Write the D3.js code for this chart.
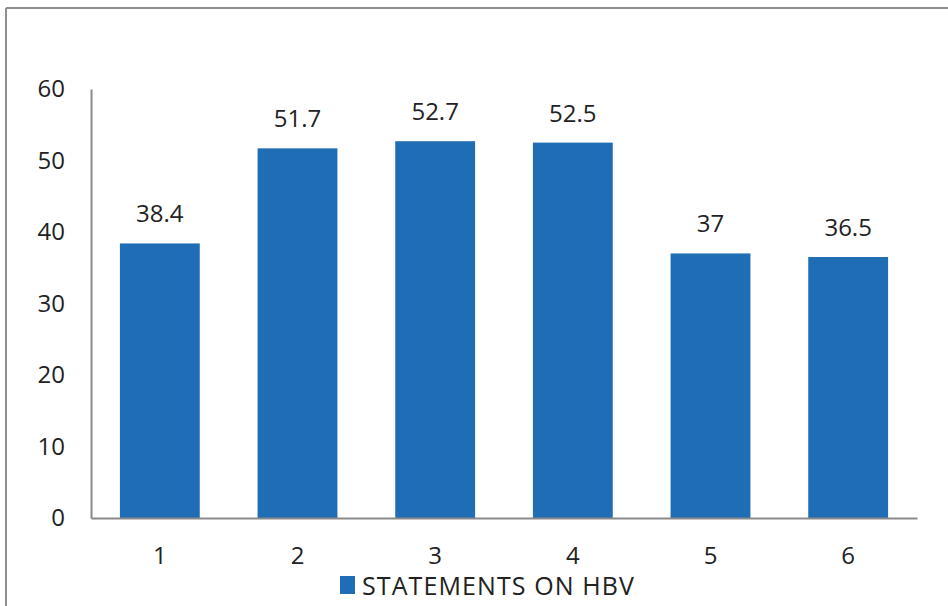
<!DOCTYPE html>
<html>
<head>
<meta charset="utf-8">
<script src="https://cdn.jsdelivr.net/npm/d3@7"></script>
<style>
  body { margin: 0; background: #fff; }
  text { font-family: "Open Sans", "Noto Sans", sans-serif; fill: #222; }
</style>
</head>
<body>
<div id="chart"></div>
<script>
let categories = ["1", "2", "3", "4", "5", "6"]
let values = [38.4, 51.7, 52.7, 52.5, 37, 36.5]
let yTicks = [0, 10, 20, 30, 40, 50, 60]
let seriesName = "STATEMENTS ON HBV"

let totalWidth = 948
let totalHeight = 606
let plot = {left: 91, right: 917, top: 89, bottom: 518}
let fontFamily = "'Open Sans', 'Noto Sans', sans-serif"

let svg = d3.select("#chart").append("svg")
    .attr("width", totalWidth)
    .attr("height", totalHeight)

// outer frame (only top and left edges visible)
svg.append("line")
    .attr("x1", 6).attr("x2", totalWidth)
    .attr("y1", 8).attr("y2", 8)
    .attr("stroke", "#8f8f8f").attr("stroke-width", 2)
svg.append("line")
    .attr("x1", 6).attr("x2", 6)
    .attr("y1", 8).attr("y2", totalHeight)
    .attr("stroke", "#8f8f8f").attr("stroke-width", 2)

let xScale = d3.scaleBand()
    .domain(categories)
    .range([plot.left, plot.right])
    .paddingInner(0.42)
    .paddingOuter(0.21)

let yScale = d3.scaleLinear()
    .domain([0, 60])
    .range([plot.bottom, plot.top])

// bars
svg.selectAll("rect.bar")
    .data(values)
    .enter()
    .append("rect")
    .attr("class", "bar")
    .attr("x", (d, i) => xScale(categories[i]))
    .attr("y", d => yScale(d))
    .attr("width", xScale.bandwidth())
    .attr("height", d => plot.bottom - yScale(d))
    .attr("fill", "#1f6db5")

// value labels
svg.selectAll("text.bar-label")
    .data(values)
    .enter()
    .append("text")
    .attr("class", "bar-label")
    .attr("x", (d, i) => xScale(categories[i]) + xScale.bandwidth() / 2)
    .attr("y", d => yScale(d) - 21)
    .attr("text-anchor", "middle")
    .style("font-size", "24px")
    .text(d => d)

// y axis
let yAxis = d3.axisLeft(yScale)
    .tickValues(yTicks)
    .tickSize(0)
    .tickPadding(26)

let yG = svg.append("g")
    .attr("class", "axis y-axis")
    .attr("transform", "translate(" + plot.left + ",0)")
    .call(yAxis)
yG.select(".domain").attr("stroke", "#8a8a8a").attr("stroke-width", 2)
yG.selectAll(".tick text")
    .style("font-size", "24px")
    .style("font-family", fontFamily)
    .attr("fill", "#222")

// x axis
let xAxis = d3.axisBottom(xScale)
    .tickSize(0)
    .tickPadding(29)

let xG = svg.append("g")
    .attr("class", "axis x-axis")
    .attr("transform", "translate(0," + plot.bottom + ")")
    .call(xAxis)
xG.select(".domain").attr("stroke", "#8a8a8a").attr("stroke-width", 2)
xG.selectAll(".tick text")
    .style("font-size", "24px")
    .style("font-family", fontFamily)
    .attr("fill", "#222")

// legend
let legend = svg.append("g")
    .attr("transform", "translate(340,576)")
legend.append("rect")
    .attr("width", 15)
    .attr("height", 18)
    .attr("fill", "#1f6db5")
legend.append("text")
    .attr("x", 22)
    .attr("y", 19)
    .style("font-size", "25px")
    .style("letter-spacing", "1.1px")
    .text(seriesName)
</script>
</body>
</html>
